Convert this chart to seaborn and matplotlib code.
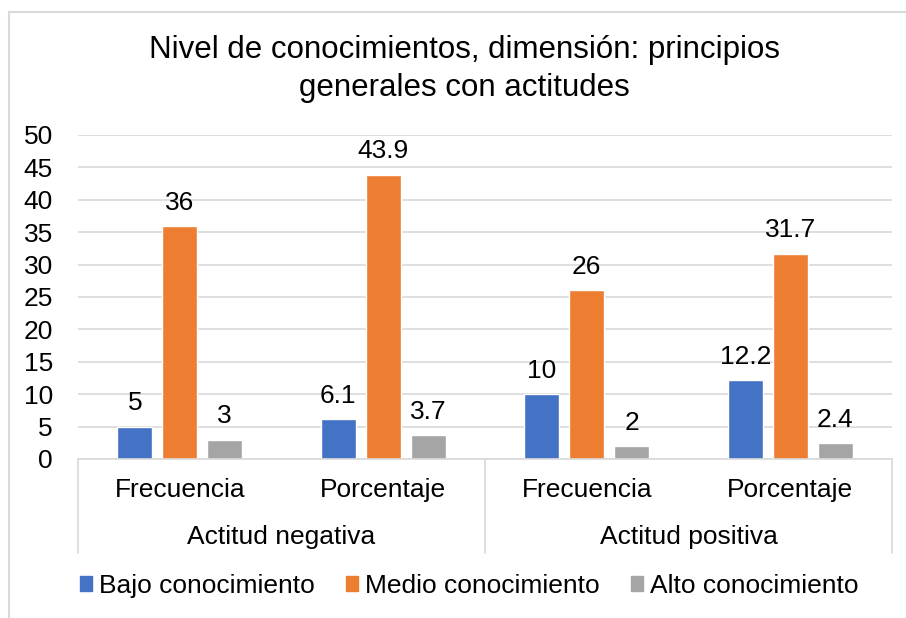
import pandas as pd
import matplotlib
matplotlib.use('Agg')
import matplotlib.pyplot as plt
import seaborn as sns
from matplotlib.lines import Line2D

# Datos
grupos = ['Actitud negativa', 'Actitud positiva']
medidas = ['Frecuencia', 'Porcentaje', 'Frecuencia', 'Porcentaje']
niveles = ['Bajo conocimiento', 'Medio conocimiento', 'Alto conocimiento']
bajo = [5, 6.1, 10, 12.2]
medio = [36, 43.9, 26, 31.7]
alto = [3, 3.7, 2, 2.4]
colores = ['#4472C4', '#ED7D31', '#A5A5A5']

posiciones = ['neg_frec', 'neg_porc', 'pos_frec', 'pos_porc']
df = pd.DataFrame({
    'pos': posiciones * 3,
    'nivel': [niveles[0]] * 4 + [niveles[1]] * 4 + [niveles[2]] * 4,
    'valor': bajo + medio + alto,
})

sns.set_style('white')
plt.rcParams['font.family'] = ['Liberation Sans', 'DejaVu Sans']
plt.rcParams['text.color'] = 'black'
plt.rcParams['xtick.color'] = 'black'
plt.rcParams['ytick.color'] = 'black'

fs = 19

fig = plt.figure(figsize=(9.06, 6.18), dpi=100)
ax = fig.add_axes([0.0861, 0.2573, 0.8984, 0.5243])

sns.barplot(data=df, x='pos', y='valor', hue='nivel', order=posiciones,
            hue_order=niveles, palette=colores, width=0.663, gap=0.22,
            saturation=1, legend=False, ax=ax)

for cont in ax.containers:
    ax.bar_label(cont, fmt='%g', padding=8, fontsize=fs)

ax.set_ylim(0, 50)
ax.set_xlim(-0.5, 3.5)
ax.set_yticks(range(0, 51, 5))
ax.tick_params(axis='y', labelsize=fs, length=0, pad=18)
ax.yaxis.grid(True, color='#d9d9d9', linewidth=1.2)
ax.set_axisbelow(True)
ax.set_xticks(range(4))
ax.set_xticklabels(medidas, fontsize=fs)
ax.tick_params(axis='x', length=0, pad=14)
ax.set_xlabel('')
ax.set_ylabel('')
for s in ['left', 'right', 'top']:
    ax.spines[s].set_visible(False)
ax.spines['bottom'].set_color('#d9d9d9')
ax.spines['bottom'].set_linewidth(1.2)

# Eje de categorías en dos niveles
trans = ax.get_xaxis_transform()
for xs in [-0.5, 1.5, 3.5]:
    ax.add_line(Line2D([xs, xs], [0, -0.29], transform=trans, color='#d9d9d9',
                       linewidth=1.2, clip_on=False))
for i, g in enumerate(grupos):
    ax.text(0.5 + 2 * i, -0.241, g, transform=trans, ha='center', va='center',
            fontsize=fs)

fig.text(0.513, 0.889, 'Nivel de conocimientos, dimensión: principios\ngenerales con actitudes',
         ha='center', va='center', fontsize=22.5, linespacing=1.35)

handles = [plt.Rectangle((0, 0), 1, 1, color=c) for c in colores]
fig.legend(handles, niveles, loc='center', bbox_to_anchor=(0.518, 0.052), ncol=3,
           frameon=False, fontsize=fs, handlelength=0.45, handleheight=0.45,
           handletextpad=0.25, columnspacing=1.2)

# Borde del gráfico
fig.add_artist(Line2D([9 / 906, 9 / 906], [0, 1 - 12 / 618], transform=fig.transFigure,
                      color='#d9d9d9', linewidth=1.5))
fig.add_artist(Line2D([9 / 906, 1], [1 - 12 / 618, 1 - 12 / 618], transform=fig.transFigure,
                      color='#d9d9d9', linewidth=1.5))

fig.savefig('out.png', dpi=100)
